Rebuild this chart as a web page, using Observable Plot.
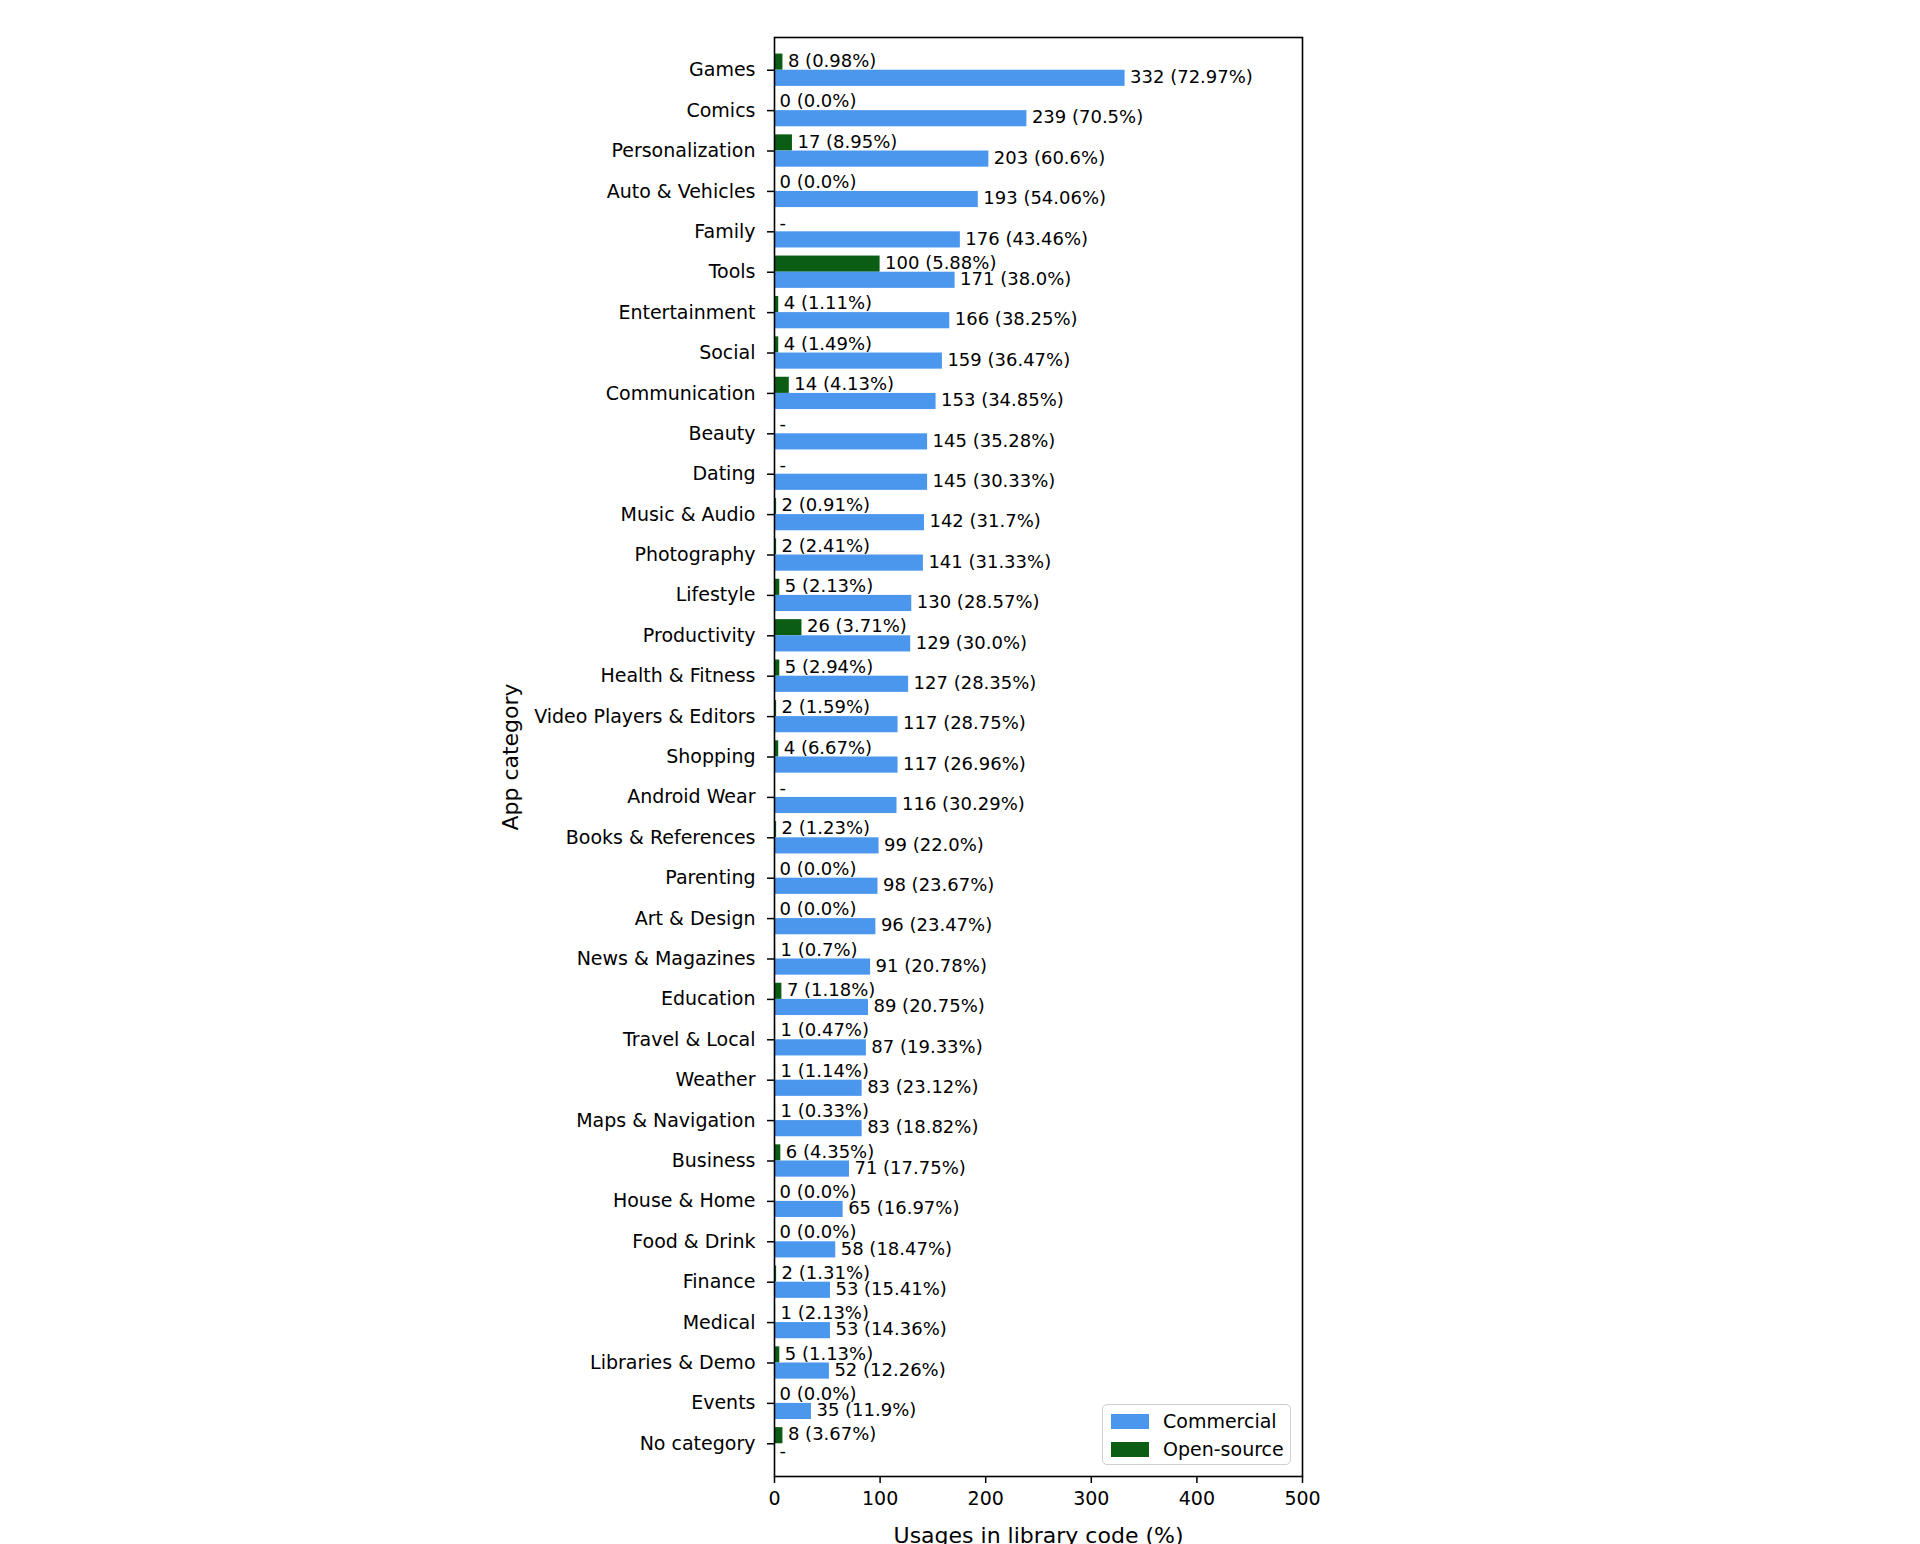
<!DOCTYPE html>
<html>
<head>
<meta charset="utf-8">
<script src="https://cdn.jsdelivr.net/npm/d3@7"></script>
<script src="https://cdn.jsdelivr.net/npm/@observablehq/plot@0.6"></script>
<style>
  html, body { margin: 0; padding: 0; background: #fff; }
  #wrap { position: relative; width: 1920px; height: 1544px; font-family: "DejaVu Sans", sans-serif; }
  #wrap svg { position: absolute; left: 0; top: 0; }
  [aria-label="y-axis label"] text, [aria-label="x-axis label"] text { font-size: 22px; }
  #legend { position: absolute; left: 1102px; top: 1404px; width: 189px; height: 61px;
    border: 1.5px solid #cfcfcf; border-radius: 5px; background: rgba(255,255,255,0.85);
    font-size: 19px; color: #000; box-sizing: border-box; }
  .lrow { position: absolute; left: 0; height: 22px; display: flex; align-items: center; }
  .sw { width: 38px; height: 15px; margin-left: 8px; margin-right: 14px; }
</style>
</head>
<body>
<div id="wrap"></div>
<script>
const categories = ["Games","Comics","Personalization","Auto & Vehicles","Family","Tools","Entertainment","Social","Communication","Beauty","Dating","Music & Audio","Photography","Lifestyle","Productivity","Health & Fitness","Video Players & Editors","Shopping","Android Wear","Books & References","Parenting","Art & Design","News & Magazines","Education","Travel & Local","Weather","Maps & Navigation","Business","House & Home","Food & Drink","Finance","Medical","Libraries & Demo","Events","No category"];
const commercialCount = [332,239,203,193,176,171,166,159,153,145,145,142,141,130,129,127,117,117,116,99,98,96,91,89,87,83,83,71,65,58,53,53,52,35,null];
const commercialPct = [72.97,70.5,60.6,54.06,43.46,38.0,38.25,36.47,34.85,35.28,30.33,31.7,31.33,28.57,30.0,28.35,28.75,26.96,30.29,22.0,23.67,23.47,20.78,20.75,19.33,23.12,18.82,17.75,16.97,18.47,15.41,14.36,12.26,11.9,null];
const openCount = [8,0,17,0,null,100,4,4,14,null,null,2,2,5,26,5,2,4,null,2,0,0,1,7,1,1,1,6,0,0,2,1,5,0,8];
const openPct = [0.98,0.0,8.95,0.0,null,5.88,1.11,1.49,4.13,null,null,0.91,2.41,2.13,3.71,2.94,1.59,6.67,null,1.23,0.0,0.0,0.7,1.18,0.47,1.14,0.33,4.35,0.0,0.0,1.31,2.13,1.13,0.0,3.67];
const xTicks = [0,100,200,300,400,500];
const seriesNames = ["Commercial","Open-source"];
const seriesColors = ["#4b97ee","#0b5d14"];

const fmtPct = p => Number.isInteger(p) ? p.toFixed(1) : String(p);
const lab = (v, p) => v == null ? "-" : `${v} (${fmtPct(p)}%)`;

const rows = categories.flatMap((c, i) => [
  {cat: c, series: "Open-source", value: openCount[i], xl: openCount[i] ?? 0, label: lab(openCount[i], openPct[i])},
  {cat: c, series: "Commercial", value: commercialCount[i], xl: commercialCount[i] ?? 0, label: lab(commercialCount[i], commercialPct[i])}
]);
const open = rows.filter(d => d.series === "Open-source");
const comm = rows.filter(d => d.series === "Commercial");

const W = 1920, H = 1544, mL = 774, mR = 618, mT = 37, mB = 68;
const padOuter = 0.31;
const step = (H - mT - mB) / (categories.length + 2 * padOuter);
const barH = 0.4 * step;

const chart = Plot.plot({
  width: W, height: H,
  marginLeft: mL, marginRight: mR, marginTop: mT, marginBottom: mB,
  style: {fontFamily: "DejaVu Sans", fontSize: "19px", color: "#000", background: "transparent", overflow: "visible"},
  x: {domain: [0, 500]},
  y: {domain: categories, paddingInner: 0, paddingOuter: padOuter, align: 0.5, round: false},
  marks: [
    Plot.barX(open, {x: "value", y: "cat", fill: seriesColors[1], insetTop: step/2 - barH, insetBottom: step/2}),
    Plot.barX(comm, {x: "value", y: "cat", fill: seriesColors[0], insetTop: step/2, insetBottom: step/2 - barH}),
    Plot.text(open, {x: "xl", y: "cat", text: "label", textAnchor: "start", dx: 5, dy: -barH/2 - 1, fontSize: 18, fill: "#000"}),
    Plot.text(comm, {x: "xl", y: "cat", text: "label", textAnchor: "start", dx: 5, dy: barH/2 - 1, fontSize: 18, fill: "#000"}),
    Plot.axisY({tickSize: 7, tickPadding: 12, strokeWidth: 1.5, fontSize: 19,
      label: "App category", labelAnchor: "center", labelOffset: 272, labelArrow: "none"}),
    Plot.axisX({ticks: xTicks, tickSize: 7, tickPadding: 8, strokeWidth: 1.5, fontSize: 19,
      label: "Usages in library code (%)", labelAnchor: "center", labelOffset: 66, labelArrow: "none"}),
    Plot.frame({stroke: "#000", strokeWidth: 1.6})
  ]
});

const wrap = document.getElementById("wrap");
wrap.appendChild(chart);

const legend = document.createElement("div");
legend.id = "legend";
seriesNames.forEach((name, i) => {
  const row = document.createElement("div");
  row.className = "lrow";
  row.style.top = (i === 0 ? 5 : 33) + "px";
  const sw = document.createElement("div");
  sw.className = "sw";
  sw.style.background = seriesColors[i];
  const t = document.createElement("span");
  t.textContent = name;
  row.appendChild(sw); row.appendChild(t);
  legend.appendChild(row);
});
wrap.appendChild(legend);
</script>
</body>
</html>
